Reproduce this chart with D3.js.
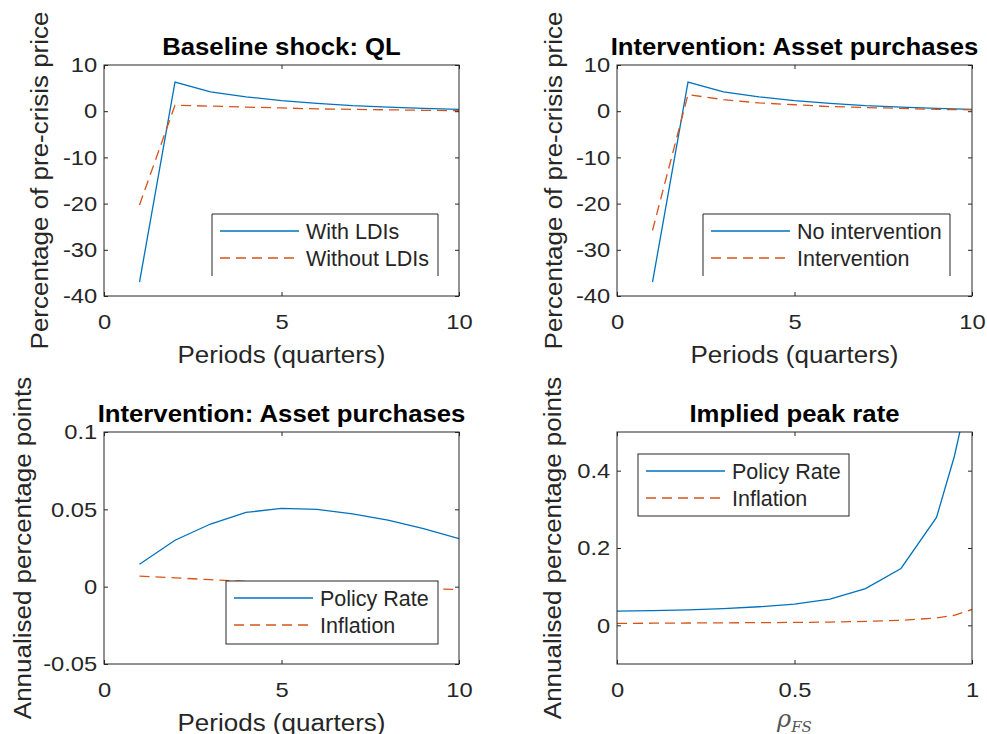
<!DOCTYPE html>
<html lang="en">
<head>
<meta charset="UTF-8">
<script src="https://d3js.org/d3.v7.min.js"></script>
<title>QL shock panels</title>
<style>
  body { margin: 0; background: #fff; }
  text { font-family: "Liberation Sans", Arial, sans-serif; }
</style>
</head>
<body>
<svg id="svg1" width="987" height="734"></svg>
<script>

// ---- data ----
const periods = [1, 2, 3, 4, 5, 6, 7, 8, 9, 10]
const qlWithLDIs = [-37, 6.3, 4.2, 3.1, 2.3, 1.7, 1.2, 0.9, 0.6, 0.4]
const qlWithoutLDIs = [-20.3, 1.3, 1.1, 0.9, 0.7, 0.5, 0.4, 0.3, 0.2, 0.1]
const qlNoIntervention = [-37, 6.3, 4.2, 3.1, 2.3, 1.7, 1.2, 0.9, 0.6, 0.4]
const qlIntervention = [-25.8, 3.6, 2.5, 1.8, 1.4, 1.0, 0.8, 0.6, 0.4, 0.3]
const policyRateAP = [0.0145, 0.030, 0.0405, 0.048, 0.0506, 0.050, 0.047, 0.043, 0.0375, 0.031]
const inflationAP = [0.0068, 0.0057, 0.0045, 0.0034, 0.0023, 0.0013, 0.0004, -0.0005, -0.0012, -0.0018]
const rhoFS = [0, 0.1, 0.2, 0.3, 0.4, 0.5, 0.6, 0.7, 0.8, 0.9, 0.95, 1]
const peakPolicyRate = [0.037, 0.038, 0.040, 0.043, 0.048, 0.055, 0.068, 0.095, 0.147, 0.279, 0.436, 0.64]
const peakInflation = [0.005, 0.0055, 0.006, 0.0065, 0.007, 0.0075, 0.0085, 0.01, 0.013, 0.019, 0.026, 0.041]

const periodTicks = [0, 5, 10]
const priceTicks = [-40, -30, -20, -10, 0, 10]
const apRateTicks = [-0.05, 0, 0.05, 0.1]
const apRateTickLabels = ["-0.05", "0", "0.05", "0.1"]
const rhoTicks = [0, 0.5, 1]
const rhoTickLabels = ["0", "0.5", "1"]
const peakTicks = [0, 0.2, 0.4]
const peakTickLabels = ["0", "0.2", "0.4"]

const blue = "#0072BD", orange = "#D95319", axisCol = "#262626"
const stretch = "scale(1.13,1)"   // the figure's axis text is a bit wider than Liberation Sans

const svg = d3.select("#svg1")

const panels = [
  { x0: 104, y0: 65, w: 355, h: 231, title: "Baseline shock: QL",
    xDom: [0, 10], yDom: [-40, 10], xTicks: periodTicks, yTicks: priceTicks,
    xLabel: "Periods (quarters)", yLabel: "Percentage of pre-crisis price", yLabelX: -56,
    x: periods, series: [qlWithLDIs, qlWithoutLDIs], names: ["With LDIs", "Without LDIs"],
    legend: { x: 212, y: 214, w: 226, h: 62, open: true } },
  { x0: 617, y0: 65, w: 355, h: 231, title: "Intervention: Asset purchases",
    xDom: [0, 10], yDom: [-40, 10], xTicks: periodTicks, yTicks: priceTicks,
    xLabel: "Periods (quarters)", yLabel: "Percentage of pre-crisis price", yLabelX: -55,
    x: periods, series: [qlNoIntervention, qlIntervention], names: ["No intervention", "Intervention"],
    legend: { x: 703, y: 214, w: 247, h: 62, open: true } },
  { x0: 104, y0: 432, w: 355, h: 232, title: "Intervention: Asset purchases",
    xDom: [0, 10], yDom: [-0.05, 0.1], xTicks: periodTicks, yTicks: apRateTicks, yTickLabels: apRateTickLabels,
    xLabel: "Periods (quarters)", yLabel: "Annualised percentage points", yLabelX: -73,
    x: periods, series: [policyRateAP, inflationAP], names: ["Policy Rate", "Inflation"],
    legend: { x: 226, y: 581, w: 212, h: 63, open: false } },
  { x0: 617, y0: 432, w: 355, h: 232, title: "Implied peak rate",
    xDom: [0, 1], yDom: [-0.1, 0.5], xTicks: rhoTicks, xTickLabels: rhoTickLabels, yTicks: peakTicks, yTickLabels: peakTickLabels,
    xLabel: null, yLabel: "Annualised percentage points", yLabelX: -56,
    x: rhoFS, series: [peakPolicyRate, peakInflation], names: ["Policy Rate", "Inflation"],
    legend: { x: 638, y: 454, w: 211, h: 62, open: false } }
]

panels.forEach((p, i) => drawPanel(p, i))

function drawPanel(p, i) {
  let g = svg.append("g").attr("transform", `translate(${p.x0},${p.y0})`)
  let x = d3.scaleLinear().domain(p.xDom).range([0, p.w])
  let y = d3.scaleLinear().domain(p.yDom).range([p.h, 0])

  g.append("clipPath").attr("id", "clip" + i)
    .append("rect").attr("width", p.w).attr("height", p.h)

  g.append("rect").attr("width", p.w).attr("height", p.h).attr("fill", "#fff")

  // lines
  let line = d3.line().x((d, j) => x(p.x[j])).y(d => y(d))
  let lines = g.append("g").attr("clip-path", `url(#clip${i})`)
  p.series.forEach((s, k) => {
    lines.append("path").datum(s)
      .attr("d", line)
      .attr("fill", "none")
      .attr("stroke", k == 0 ? blue : orange)
      .attr("stroke-width", 1.3)
      .attr("stroke-dasharray", k == 0 ? null : "10,6")
  })

  // axes: ticks inside, box on
  let xAxis = d3.axisBottom(x).tickValues(p.xTicks).tickSizeInner(-4).tickSizeOuter(0).tickPadding(18)
  xAxis.tickFormat(p.xTickLabels ? (d, j) => p.xTickLabels[j] : d => String(d))
  let yAxis = d3.axisLeft(y).tickValues(p.yTicks).tickSizeInner(-4).tickSizeOuter(0).tickPadding(6)
  yAxis.tickFormat(p.yTickLabels ? (d, j) => p.yTickLabels[j] : d => String(d))

  let gx = g.append("g").attr("transform", `translate(0,${p.h})`).call(xAxis)
  let gy = g.append("g").call(yAxis)
  let gxTop = g.append("g").call(d3.axisTop(x).tickValues(p.xTicks).tickSizeInner(-4).tickSizeOuter(0).tickFormat(""))
  let gyRight = g.append("g").attr("transform", `translate(${p.w},0)`)
    .call(d3.axisRight(y).tickValues(p.yTicks).tickSizeInner(-4).tickSizeOuter(0).tickFormat(""))

  ;[gx, gy, gxTop, gyRight].forEach(a => {
    a.select(".domain").remove()
    a.selectAll("line").attr("stroke", axisCol)
    a.selectAll("text").attr("fill", axisCol).style("font-size", "21px")
      .style("font-family", "'Liberation Sans', Arial, sans-serif")
      .attr("transform", stretch)
  })
  gx.selectAll("text").attr("dy", "0.71em")

  g.append("rect").attr("width", p.w).attr("height", p.h)
    .attr("fill", "none").attr("stroke", axisCol).attr("stroke-width", 1)

  // title
  g.append("g").attr("transform", `translate(${p.w / 2},-10)`)
    .append("text")
    .attr("text-anchor", "middle").attr("transform", "scale(1.05,1)")
    .style("font-size", "24.5px").style("font-weight", "bold").attr("fill", "#000")
    .text(p.title)

  // y label
  g.append("g")
    .attr("transform", `translate(${p.yLabelX},${p.h / 2}) rotate(-90)`)
    .append("text")
    .attr("text-anchor", "middle").attr("transform", stretch)
    .style("font-size", "23px").attr("fill", axisCol)
    .text(p.yLabel)

  // x label
  if (p.xLabel) {
    g.append("g").attr("transform", `translate(${p.w / 2},${p.h + 67})`)
      .append("text")
      .attr("text-anchor", "middle").attr("transform", stretch)
      .style("font-size", "23px").attr("fill", axisCol)
      .text(p.xLabel)
  } else {
    let t = g.append("text").attr("x", p.w / 2).attr("y", p.h + 63)
      .attr("text-anchor", "middle").attr("fill", "#555")
      .style("font-family", "'DejaVu Serif', 'Liberation Serif', serif").style("font-style", "italic")
    t.append("tspan").style("font-size", "24px").text("ρ")
    t.append("tspan").attr("dy", 5).style("font-size", "15px").text("FS")
  }

  // legend
  let L = p.legend
  let lg = svg.append("g").attr("transform", `translate(${L.x},${L.y})`)
  lg.append("rect").attr("width", L.w).attr("height", L.h).attr("fill", "#fff")
  if (L.open) {
    lg.append("path")
      .attr("d", `M0,${L.h}V0H${L.w}V${L.h}`)
      .attr("fill", "none").attr("stroke", axisCol).attr("stroke-width", 1)
  } else {
    lg.append("rect").attr("width", L.w).attr("height", L.h)
      .attr("fill", "none").attr("stroke", axisCol).attr("stroke-width", 1)
  }
  p.names.forEach((n, k) => {
    let yy = 17 + k * 27
    lg.append("line").attr("x1", 8).attr("x2", 87).attr("y1", yy).attr("y2", yy)
      .attr("stroke", k == 0 ? blue : orange).attr("stroke-width", 1.3)
      .attr("stroke-dasharray", k == 0 ? null : "10,6")
    lg.append("text").attr("x", 94).attr("y", yy + 8)
      .style("font-size", "21.5px").attr("fill", axisCol)
      .text(n)
  })
}

</script>
</body>
</html>
